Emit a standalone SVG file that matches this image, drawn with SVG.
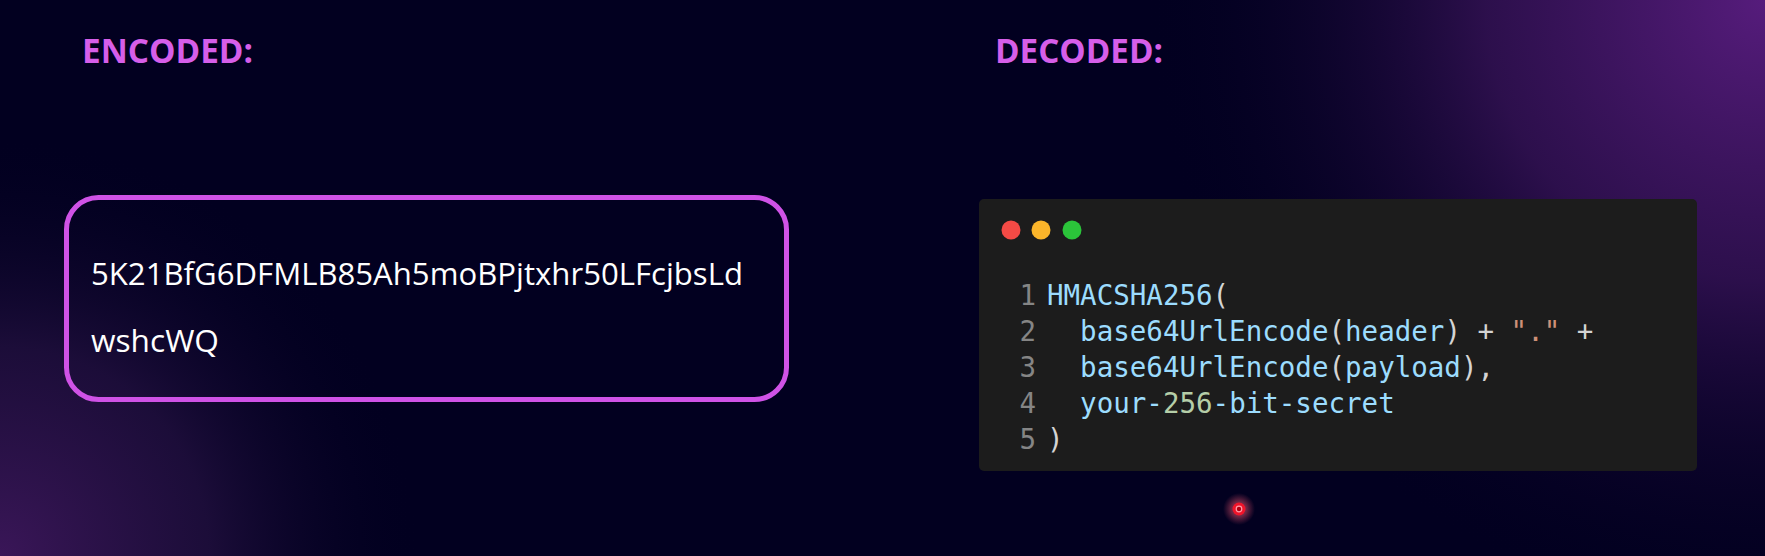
<svg xmlns="http://www.w3.org/2000/svg" width="1765" height="556" viewBox="0 0 1765 556">
  <defs>
    <radialGradient id="glowTR" cx="1765" cy="0" r="620" gradientUnits="userSpaceOnUse">
      <stop offset="0" stop-color="#561c7c"/>
      <stop offset="0.45" stop-color="#341254" stop-opacity="0.85"/>
      <stop offset="1" stop-color="#020020" stop-opacity="0"/>
    </radialGradient>
    <radialGradient id="glowBL" cx="0" cy="556" r="420" gradientUnits="userSpaceOnUse">
      <stop offset="0" stop-color="#3a1658"/>
      <stop offset="0.5" stop-color="#22103f" stop-opacity="0.8"/>
      <stop offset="1" stop-color="#020020" stop-opacity="0"/>
    </radialGradient>
    <radialGradient id="dotGlow">
      <stop offset="0" stop-color="#ff5a70" stop-opacity="0.75"/>
      <stop offset="0.5" stop-color="#e0506a" stop-opacity="0.45"/>
      <stop offset="1" stop-color="#c04060" stop-opacity="0"/>
    </radialGradient>
    <style>
      .heading { font-family: "Open Sans", "Liberation Sans", sans-serif; font-weight: 700; font-size: 34px; fill: #d65ee9; }
      .enc { font-family: "Open Sans", "Liberation Sans", sans-serif; font-size: 31px; fill: #ffffff; }
      .code { font-family: "DejaVu Sans Mono", "Liberation Mono", monospace; font-size: 27.5px; white-space: pre; }
      .ln { fill: #858585; }
      .id { fill: #9cdcfe; }
      .pn { fill: #d4d4d4; }
      .str { fill: #ce9178; }
      .num { fill: #b5cea8; }
    </style>
  </defs>

  <rect x="0" y="0" width="1765" height="556" fill="#020020"/>
  <rect x="0" y="0" width="1765" height="556" fill="url(#glowTR)"/>
  <rect x="0" y="0" width="1765" height="556" fill="url(#glowBL)"/>

  <g id="encoded-label">
    <text class="heading" x="82" y="63" textLength="171" lengthAdjust="spacingAndGlyphs">ENCODED:</text>
  </g>

  <g id="decoded-label">
    <text class="heading" x="995" y="63" textLength="168" lengthAdjust="spacingAndGlyphs">DECODED:</text>
  </g>

  <g id="encoded-box">
    <rect x="66.5" y="197.5" width="720" height="202" rx="32" ry="32" fill="none" stroke="#cf52e6" stroke-width="5"/>
    <text class="enc" x="91" y="285" textLength="652" lengthAdjust="spacingAndGlyphs">5K21BfG6DFMLB85Ah5moBPjtxhr50LFcjbsLd</text>
    <text class="enc" x="91" y="352" textLength="128" lengthAdjust="spacingAndGlyphs">wshcWQ</text>
  </g>

  <g id="code-panel">
    <rect x="979" y="199" width="718" height="272" rx="5" ry="5" fill="#1c1c1c"/>
    <circle cx="1011" cy="230" r="9.5" fill="#f34a45"/>
    <circle cx="1041" cy="230" r="9.5" fill="#fbb52a"/>
    <circle cx="1072" cy="230" r="9.5" fill="#2bc43a"/>
    <text class="code ln" x="1036" y="305" text-anchor="end">1</text>
    <text class="code ln" x="1036" y="341" text-anchor="end">2</text>
    <text class="code ln" x="1036" y="377" text-anchor="end">3</text>
    <text class="code ln" x="1036" y="413" text-anchor="end">4</text>
    <text class="code ln" x="1036" y="449" text-anchor="end">5</text>
    <text class="code" x="1047" y="305"><tspan class="id">HMACSHA256</tspan><tspan class="pn">(</tspan></text>
    <text class="code" x="1047" y="341" xml:space="preserve"><tspan class="id">  base64UrlEncode</tspan><tspan class="pn">(</tspan><tspan class="id">header</tspan><tspan class="pn">) + </tspan><tspan class="str">"."</tspan><tspan class="pn"> +</tspan></text>
    <text class="code" x="1047" y="377" xml:space="preserve"><tspan class="id">  base64UrlEncode</tspan><tspan class="pn">(</tspan><tspan class="id">payload</tspan><tspan class="pn">),</tspan></text>
    <text class="code" x="1047" y="413" xml:space="preserve"><tspan class="id">  your-</tspan><tspan class="num">256</tspan><tspan class="id">-bit-secret</tspan></text>
    <text class="code" x="1047" y="449"><tspan class="pn">)</tspan></text>
  </g>

  <g id="cursor">
    <circle cx="1239" cy="509" r="16" fill="url(#dotGlow)"/>
    <circle cx="1239" cy="509" r="6.5" fill="#f0142a"/>
    <circle cx="1239" cy="509" r="2.8" fill="#b00010" stroke="#ff9aa8" stroke-width="1.2"/>
  </g>

  <g id="connectors"></g>
</svg>
